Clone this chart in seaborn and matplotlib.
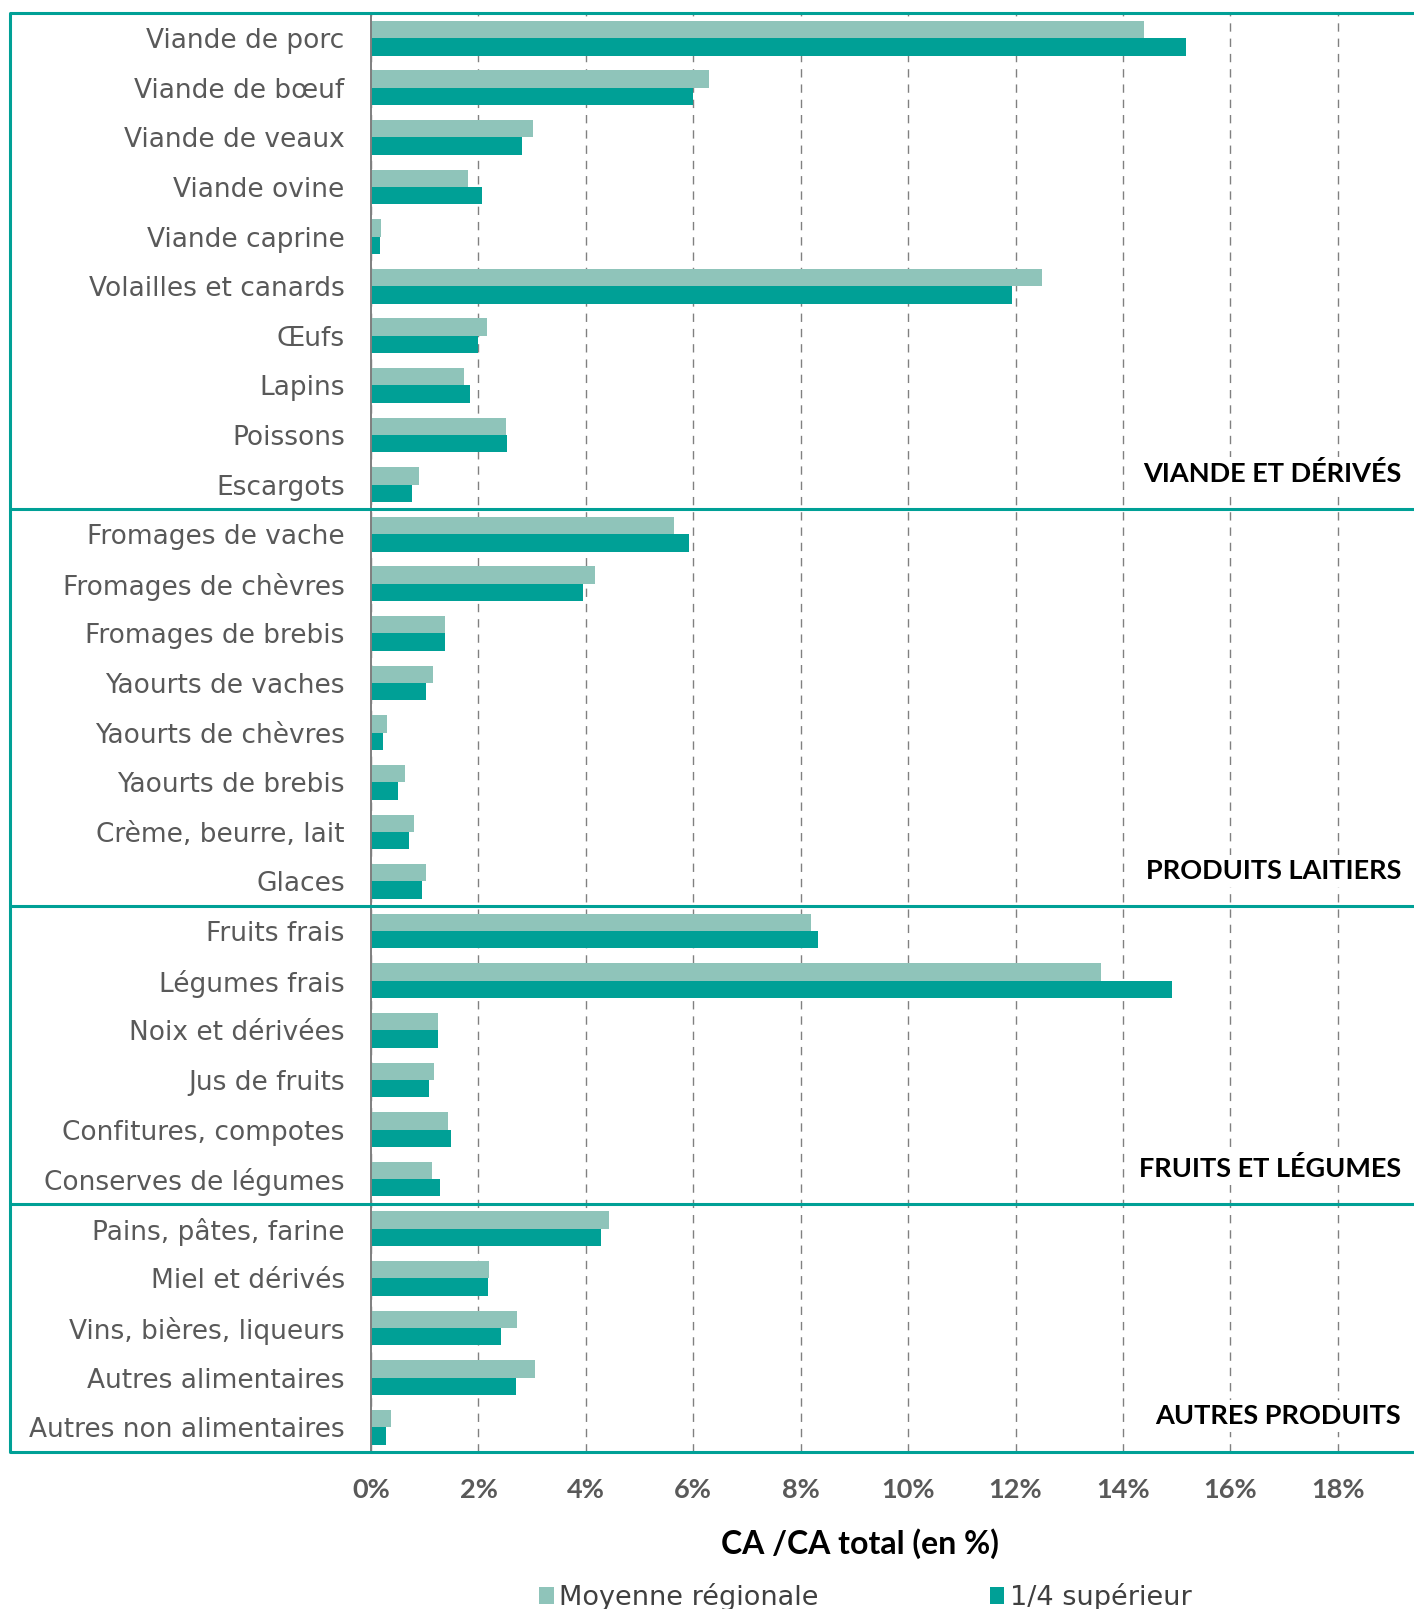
import matplotlib
matplotlib.use("Agg")
import matplotlib.pyplot as plt
from matplotlib import font_manager as fm
from matplotlib.lines import Line2D
from matplotlib.transforms import blended_transform_factory
import seaborn as sns
import pandas as pd

# ---- data -------------------------------------------------------------
categories = [
    "Viande de porc", "Viande de bœuf", "Viande de veaux", "Viande ovine",
    "Viande caprine", "Volailles et canards", "Œufs", "Lapins", "Poissons",
    "Escargots",
    "Fromages de vache", "Fromages de chèvres", "Fromages de brebis",
    "Yaourts de vaches", "Yaourts de chèvres", "Yaourts de brebis",
    "Crème, beurre, lait", "Glaces",
    "Fruits frais", "Légumes frais", "Noix et dérivées", "Jus de fruits",
    "Confitures, compotes", "Conserves de légumes",
    "Pains, pâtes, farine", "Miel et dérivés", "Vins, bières, liqueurs",
    "Autres alimentaires", "Autres non alimentaires",
]
group_names = ["VIANDE ET DÉRIVÉS", "PRODUITS LAITIERS", "FRUITS ET LÉGUMES",
               "AUTRES PRODUITS"]
group_sizes = [10, 8, 6, 5]

moyenne_regionale = [14.40, 6.30, 3.01, 1.80, 0.18, 12.49, 2.15, 1.73, 2.52, 0.90,
                     5.65, 4.17, 1.37, 1.16, 0.29, 0.63, 0.80, 1.02,
                     8.20, 13.59, 1.24, 1.18, 1.44, 1.14,
                     4.44, 2.19, 2.71, 3.05, 0.37]
quart_superieur = [15.18, 6.00, 2.82, 2.07, 0.17, 11.93, 2.00, 1.84, 2.54, 0.76,
                   5.92, 3.95, 1.38, 1.02, 0.22, 0.51, 0.70, 0.94,
                   8.32, 14.92, 1.25, 1.08, 1.48, 1.29,
                   4.29, 2.18, 2.42, 2.69, 0.28]
series_names = ["Moyenne régionale", "1/4 supérieur"]
x_ticks = [0, 2, 4, 6, 8, 10, 12, 14, 16, 18]

df = pd.DataFrame({
    "categorie": categories * 2,
    "valeur": moyenne_regionale + quart_superieur,
    "serie": [series_names[0]] * len(categories) + [series_names[1]] * len(categories),
})

# ---- style ------------------------------------------------------------
sns.set_theme(style="white")


def first_font(names):
    for name in names:
        try:
            fm.findfont(fm.FontProperties(family=name), fallback_to_default=False)
            return name
        except Exception:
            continue
    return "DejaVu Sans"


BOLD_FONT = first_font(["Liberation Sans Narrow", "Lato", "Roboto"])
plt.rcParams["font.family"] = ["DejaVu Sans"]

LIGHT = "#8FC4BA"
DARK = "#00A096"
FRAME = "#00A096"
GRID = "#808080"
TEXT_GREY = "#595959"

fig = plt.figure(figsize=(14.14, 16.09), dpi=100)
ax = fig.add_axes([0.2624, 0.0976, 0.7376, 0.8941])

sns.barplot(data=df, y="categorie", x="valeur", hue="serie", orient="h",
            palette=[LIGHT, DARK], saturation=1, width=0.7, ax=ax,
            linewidth=0, zorder=3)

handles, labels = ax.get_legend_handles_labels()
if ax.legend_ is not None:
    ax.legend_.remove()

ax.set_xlim(0, 19.42)
ax.set_ylim(len(categories) - 0.5, -0.5)
ax.set_xticks(x_ticks)
ax.set_xticklabels([f"{t}%" for t in x_ticks])
ax.set_xlabel("")
ax.set_ylabel("")

for s in ["top", "right", "bottom"]:
    ax.spines[s].set_visible(False)
ax.spines["left"].set_color("#7f7f7f")
ax.spines["left"].set_linewidth(1.4)
ax.spines["left"].set_zorder(4)

ax.grid(axis="x", color=GRID, linestyle=(0, (6, 5)), linewidth=1.0, zorder=0)
ax.grid(axis="y", visible=False)
ax.set_axisbelow(True)

ax.tick_params(axis="y", length=0, pad=19, labelsize=19, labelcolor=TEXT_GREY)
ax.tick_params(axis="x", length=0, pad=19)
for lab in ax.get_xticklabels():
    lab.set_fontfamily(BOLD_FONT)
    lab.set_fontweight("bold")
    lab.set_fontsize(19.5)
    lab.set_color(TEXT_GREY)

# ---- group frame and labels ------------------------------------------
trans = blended_transform_factory(fig.transFigure, ax.transData)
frame_left = 10 / 1414
bounds = [-0.5]
for n in group_sizes:
    bounds.append(bounds[-1] + n)
for b in bounds:
    fig.add_artist(Line2D([frame_left, 1.0], [b, b], transform=trans,
                          color=FRAME, linewidth=2.2, zorder=10,
                          solid_capstyle="butt"))
fig.add_artist(Line2D([frame_left, frame_left], [bounds[0], bounds[-1]],
                      transform=trans, color=FRAME, linewidth=2.2, zorder=10))

label_trans = blended_transform_factory(ax.transAxes, ax.transData)
for name, end in zip(group_names, bounds[1:]):
    ax.text(0.9875, end - 0.72, name, transform=label_trans, ha="right",
            va="center", fontsize=19.5, fontweight="bold", family=BOLD_FONT,
            color="black", zorder=6,
            bbox=dict(facecolor="white", edgecolor="none", pad=3))

# ---- axis title and legend ------------------------------------------
fig.text(0.608, 1 - 1544 / 1609, "CA /CA total (en %)", ha="center",
         va="center", fontsize=23, fontweight="bold", family=BOLD_FONT,
         color="black")

fig.legend(handles, labels, loc="center", bbox_to_anchor=(0.612, 1 - 1597 / 1609),
           ncol=2, frameon=False, fontsize=19.5, handlelength=0.55,
           handleheight=0.55, handletextpad=0.2, columnspacing=6.3,
           labelcolor="#404040")

fig.savefig("out.png", dpi=100)
